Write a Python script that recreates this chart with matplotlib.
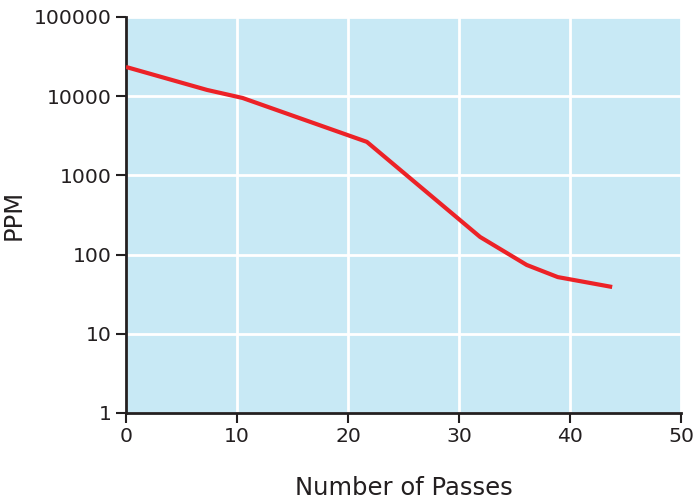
import matplotlib
matplotlib.use("Agg")
import matplotlib.pyplot as plt
from matplotlib.ticker import FixedLocator, FixedFormatter, NullLocator

# values
passes = [0, 7.3, 10.5, 21.7, 31.9, 36.1, 38.9, 43.8]
ppm = [23400, 12000, 9500, 2650, 167, 74, 52, 39]

x_ticks = [0, 10, 20, 30, 40, 50]
y_ticks = [1, 10, 100, 1000, 10000, 100000]
y_labels = ["1", "10", "100", "1000", "10000", "100000"]

plt.rcParams['font.family'] = ['DejaVu Sans']

fig = plt.figure(figsize=(6.97, 5), dpi=100)
ax = fig.add_axes([126 / 697, 1 - 413 / 500, 555 / 697, 396 / 500])
ax.set_facecolor("#c8e9f5")

ax.plot(passes, ppm, color="#ec2227", lw=3, solid_capstyle="butt", zorder=3)

ax.set_yscale("log")
ax.set_xlim(0, 50)
ax.set_ylim(1, 100000)
ax.xaxis.set_major_locator(FixedLocator(x_ticks))
ax.yaxis.set_major_locator(FixedLocator(y_ticks))
ax.yaxis.set_major_formatter(FixedFormatter(y_labels))
ax.yaxis.set_minor_locator(NullLocator())

ax.grid(True, color="white", lw=2)
ax.set_axisbelow(True)

for s in ["top", "right"]:
    ax.spines[s].set_visible(False)
for s in ["left", "bottom"]:
    ax.spines[s].set_linewidth(2)
    ax.spines[s].set_color("#231f20")

ax.tick_params(axis="both", length=7, width=1.5, color="#231f20",
               labelsize=14.7, labelcolor="#231f20", pad=3)

ax.set_xlabel("Number of Passes", fontsize=17.5, color="#231f20", labelpad=22)
ax.set_ylabel("PPM", fontsize=17.5, color="#231f20", labelpad=6)

fig.savefig("out.png", dpi=100)
